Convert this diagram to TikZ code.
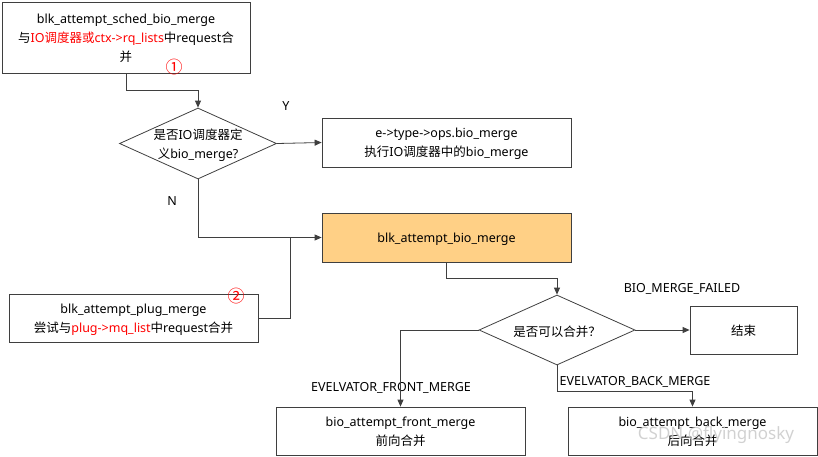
\documentclass[tikz,border=0pt]{standalone}
\usepackage{fontspec}
\setmainfont{Noto Sans}
\newfontfamily\cjk{Noto Sans CJK SC}
\usetikzlibrary{shapes.geometric,arrows.meta,calc}
\newcommand{\zh}[1]{{\cjk #1}}
\newcommand{\rd}[1]{\textcolor{red}{#1}}
\definecolor{linec}{HTML}{3F3F3F}
\definecolor{orangef}{HTML}{FFD086}
\tikzset{
  box/.style={draw=linec, line width=0.8pt, inner sep=0pt, align=center, text depth=0pt, font=\fontsize{12.5}{19}\selectfont},
  dia/.style={draw=linec, line width=0.8pt, diamond, inner sep=0pt},
  txt/.style={inner sep=0pt, align=center, text depth=0pt, font=\fontsize{12.5}{19}\selectfont},
  lbl/.style={inner sep=0pt, font=\fontsize{12.5}{15}\selectfont},
  num/.style={inner sep=0pt, text=red, font=\cjk\fontsize{17}{17}\selectfont},
  conn/.style={draw=linec, line width=0.8pt},
  arr/.style={conn, -{Triangle[length=7pt,width=6pt]}},
}
\begin{document}
\begin{tikzpicture}[x=1pt,y=-1pt]
\useasboundingbox (0,0) rectangle (818,456);
\node[box, minimum width=248pt, minimum height=71pt] (top) at (126,37.5)
  {blk\_attempt\_sched\_bio\_merge\\ \zh{与}\rd{IO\zh{调度器或}ctx->rq\_lists}\zh{中}request\zh{合}\\ \zh{并}};
\node[num] (n1) at (174,67) {①};
\node[dia, minimum width=157pt, minimum height=71pt] (d1) at (198,143.5) {};
\node[txt] (d1t) at (d1) {\zh{是否}IO\zh{调度器定}\\ \zh{义}bio\_merge?};
\node[box, minimum width=249pt, minimum height=49pt] (b2) at (446.5,142.5)
  {e->type->ops.bio\_merge\\ \zh{执行}IO\zh{调度器中的}bio\_merge};
\node[box, fill=orangef, minimum width=249pt, minimum height=49pt] (b3) at (446.5,237.5)
  {blk\_attempt\_bio\_merge};
\node[box, minimum width=249pt, minimum height=48pt] (plug) at (133.5,318)
  {blk\_attempt\_plug\_merge\\ \zh{尝试与}\rd{plug->mq\_list}\zh{中}request\zh{合并}};
\node[num] (n2) at (236,296) {②};
\node[dia, minimum width=156pt, minimum height=70pt] (d2) at (557,330) {};
\node[txt] (d2t) at ($(d2)+(0,1)$) {\zh{是否可以合并？}};
\node[box, minimum width=107pt, minimum height=48pt] (end) at (743.5,330) {\zh{结束}};
\node[box, minimum width=249pt, minimum height=48pt] (front) at (400.5,431)
  {bio\_attempt\_front\_merge\\ \zh{前向合并}};
\node[box, minimum width=249pt, minimum height=48pt] (back) at (692.5,431)
  {bio\_attempt\_back\_merge\\ \zh{后向合并}};
% labels
\node[lbl] (ly) at (286,106) {Y};
\node[lbl] (ln) at (172,201) {N};
\node[lbl] (lf) at (682,289) {BIO\_MERGE\_FAILED};
\node[lbl] (lfm) at (391,388) {EVELVATOR\_FRONT\_MERGE};
\node[lbl] (lbm) at (635,382) {EVELVATOR\_BACK\_MERGE};
\node[inner sep=0pt, text=gray!45, opacity=0.8, font=\fontsize{17}{17}\selectfont] (wm) at (716,435) {CSDN @flyingnosky};
% connectors
\draw[arr] (top.south) -- ++(0,17) -| (d1.north);
\draw[arr] (d1.east) -- (b2.west);
\draw[arr] (d1.south) |- (b3.west);
\coordinate (j) at ($(b3.west)+(-31,0)$);
\draw[conn] (plug.east) -| (j);
\draw[arr] (b3.south) -- ++(0,16) -| (d2.north);
\draw[arr] (d2.east) -- (end.west);
\draw[arr] (d2.west) -| (front.north);
\draw[arr] (d2.south) -- ++(0,26) -| (back.north);
\end{tikzpicture}
\end{document}
